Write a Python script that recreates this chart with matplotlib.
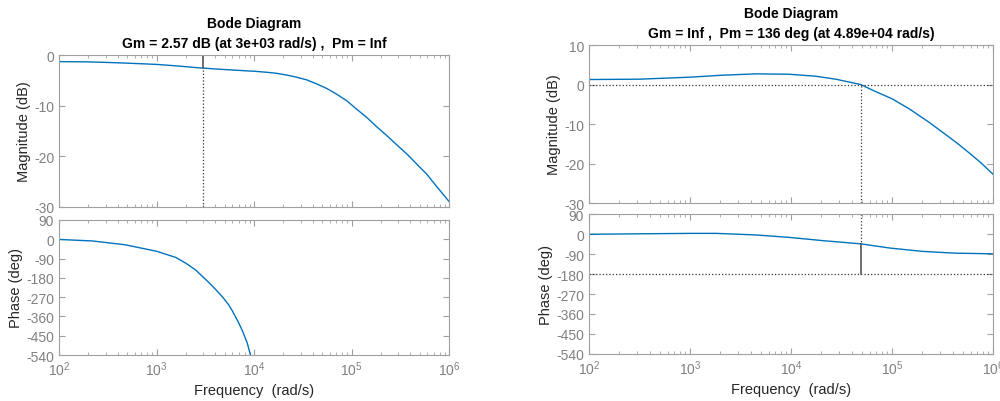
import matplotlib
matplotlib.use("Agg")
import matplotlib.pyplot as plt
import numpy as np
from matplotlib.ticker import LogLocator, NullFormatter, MultipleLocator

plt.rcParams['font.family'] = ['Liberation Sans', 'DejaVu Sans']
plt.rcParams['mathtext.default'] = 'regular'
plt.rcParams['axes.unicode_minus'] = False

# left system
w_left = [1e2, 2e2, 3e2, 5e2, 1e3, 1.5e3, 2e3, 2.8e3, 3e3, 4e3, 6.1e3, 8e3, 1e4, 1.35e4, 1.7e4,
          2.16e4, 2.7e4, 3.47e4, 4.4e4, 5.57e4, 7e4, 8.9e4, 1.1e5, 1.43e5, 1.8e5, 2.3e5,
          2.9e5, 3.68e5, 4.6e5, 5.9e5, 7.5e5, 1e6]
mag_left = [-1.3, -1.35, -1.45, -1.6, -1.85, -2.1, -2.3, -2.55, -2.57, -2.75, -2.96, -3.1,
            -3.2, -3.4, -3.6, -3.95, -4.35, -4.9, -5.7, -6.6, -7.7, -9.0, -10.5, -12.3,
            -14.1, -15.9, -17.7, -19.5, -21.4, -23.5, -26.0, -28.9]
wp_left = [1e2, 2.2e2, 4.8e2, 1e3, 1.58e3, 2e3, 2.5e3, 3e3, 3.5e3, 4e3, 4.77e3, 5.5e3, 6.03e3,
           7e3, 7.65e3, 8.5e3, 9.2e3]
ph_left = [-1, -8, -26, -56, -85, -112, -142, -176, -205, -232, -270, -306, -336,
           -392, -430, -482, -540]
wgm_left = 3e3
gm_mag_left = -2.57

# right system
w_right = [1e2, 3.13e2, 1e3, 2.1e3, 4.47e3, 9.6e3, 1.76e4, 2.78e4, 4.89e4, 6.9e4, 1e5, 1.49e5,
           2.34e5, 3.67e5, 4.6e5, 5.8e5, 7.5e5, 1e6]
mag_right = [1.27, 1.35, 1.86, 2.36, 2.7, 2.6, 2.1, 1.35, 0.0, -1.8, -3.6, -6.2,
             -9.6, -13.3, -15.2, -17.3, -19.7, -22.7]
wp_right = [1e2, 3e2, 1e3, 1.83e3, 4.47e3, 9.6e3, 2.1e4, 4.89e4, 9.5e4, 2e5, 4.2e5, 1e6]
ph_right = [-1, 1, 3, 3, -4, -15, -30, -44, -63, -78, -86, -89]
wpm_right = 4.89e4
pm_phase_right = -44

blue = '#0072BD'
gray = '#a0a0a0'
tick_gray = '#808080'
txt = '#262626'

fig = plt.figure(figsize=(10, 4.02), dpi=100)


def style(ax, xlabel=False):
    ax.set_xscale('log')
    ax.set_xlim(1e2, 1e6)
    for s in ax.spines.values():
        s.set_color(gray)
    ax.tick_params(which='both', direction='in', top=True, right=True, colors=gray,
                   labelcolor=tick_gray, labelsize=10)
    ax.tick_params(which='major', length=4)
    ax.tick_params(which='minor', length=2)
    ax.xaxis.set_major_locator(LogLocator(base=10, numticks=10))
    ax.xaxis.set_minor_locator(LogLocator(base=10, subs=np.arange(2, 10), numticks=20))
    ax.xaxis.set_minor_formatter(NullFormatter())
    if not xlabel:
        ax.tick_params(axis='x', which='both', labelbottom=False)
    else:
        ax.set_xlabel('Frequency  (rad/s)', color=txt, fontsize=10.5, labelpad=3)


# left magnitude
ax1 = fig.add_axes([0.059, 0.4826, 0.390, 0.378])
ax1.plot(w_left, mag_left, color=blue, lw=1)
ax1.plot([wgm_left, wgm_left], [-30, gm_mag_left], color='#333333', ls=':', lw=0.9)
ax1.plot([wgm_left, wgm_left], [0, gm_mag_left], color='#555555', lw=1.2)
ax1.set_ylim(-30, 0)
ax1.yaxis.set_major_locator(MultipleLocator(10))
style(ax1)
ax1.set_ylabel('Magnitude (dB)', color=txt, fontsize=10.5, labelpad=2)
ax1.set_title('Bode Diagram\nGm = 2.57 dB (at 3e+03 rad/s) ,  Pm = Inf',
              fontsize=10, fontweight='bold', color='black', pad=6, linespacing=1.55)

# left phase
ax2 = fig.add_axes([0.059, 0.1144, 0.390, 0.336])
ax2.plot(wp_left, ph_left, color=blue, lw=1)
ax2.set_ylim(-540, 90)
ax2.set_yticks(np.arange(-540, 91, 90))
style(ax2, xlabel=True)
ax2.set_ylabel('Phase (deg)', color=txt, fontsize=10.5, labelpad=2)

# right magnitude
ax3 = fig.add_axes([0.589, 0.4925, 0.404, 0.393])
ax3.plot(w_right, mag_right, color=blue, lw=1)
ax3.axhline(0, color='#333333', ls=':', lw=0.9)
ax3.plot([wpm_right, wpm_right], [-30, 0], color='#333333', ls=':', lw=0.9)
ax3.set_ylim(-30, 10)
ax3.yaxis.set_major_locator(MultipleLocator(10))
style(ax3)
ax3.set_ylabel('Magnitude (dB)', color=txt, fontsize=10.5, labelpad=2)
ax3.set_title('Bode Diagram\nGm = Inf ,  Pm = 136 deg (at 4.89e+04 rad/s)',
              fontsize=10, fontweight='bold', color='black', pad=6, linespacing=1.55)

# right phase
ax4 = fig.add_axes([0.589, 0.117, 0.404, 0.348])
ax4.plot(wp_right, ph_right, color=blue, lw=1)
ax4.axhline(-180, color='#333333', ls=':', lw=0.9)
ax4.plot([wpm_right, wpm_right], [90, pm_phase_right], color='#333333', ls=':', lw=0.9)
ax4.plot([wpm_right, wpm_right], [-180, pm_phase_right], color='#555555', lw=1.2)
ax4.set_ylim(-540, 90)
ax4.set_yticks(np.arange(-540, 91, 90))
style(ax4, xlabel=True)
ax4.set_ylabel('Phase (deg)', color=txt, fontsize=10.5, labelpad=2)

fig.savefig('out.png', dpi=100)
